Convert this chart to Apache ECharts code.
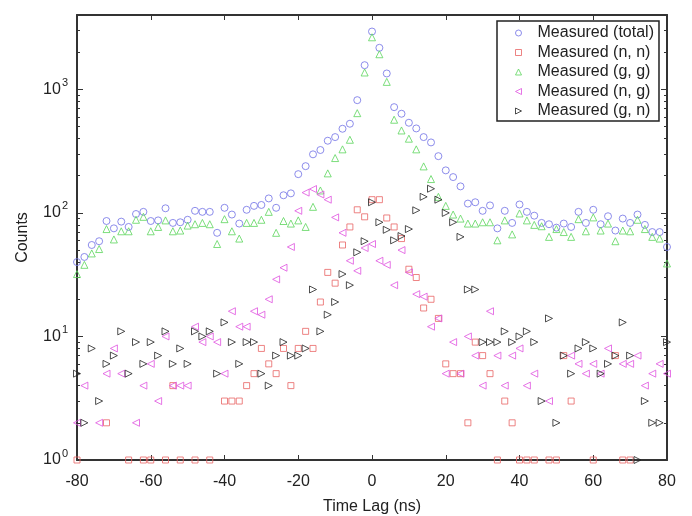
<!DOCTYPE html>
<html>
<head>
<meta charset="utf-8">
<script src="https://cdn.jsdelivr.net/npm/echarts@6/dist/echarts.min.js"></script>
<style>
html,body{margin:0;padding:0;background:#fff;}
#chart{width:692px;height:516px;}
</style>
</head>
<body>
<div id="chart"></div>
<script>
// Time lag (ns) of each bin
const timeLag = [-80,-78,-76,-74,-72,-70,-68,-66,-64,-62,-60,-58,-56,-54,-52,-50,-48,-46,-44,-42,
  -40,-38,-36,-34,-32,-30,-28,-26,-24,-22,-20,-18,-16,-14,-12,-10,-8,-6,-4,-2,0,
  2,4,6,8,10,12,14,16,18,20,22,24,26,28,30,32,34,36,38,40,
  42,44,46,48,50,52,54,56,58,60,62,64,66,68,70,72,74,76,78,80];

const measuredTotal = [40,44,55,59,86,75,85,77,98,102, 86,87,109,83,84,88,104,102,102,69,
  110,97,82,106,114,116,131,110,139,144, 206,239,298,323,384,411,480,527,818,1570, 2940,
  2170,1345,718,635,537,483,411,372,288,221, 195,164,119,122,104,115,75,104,83,117,
  102,95,83,81,76,82,77,102,83,106, 81,94,72,90,83,97,80,70,70,53];

const measuredNN = [1,null,null,null,2,null,null,1,null,1, 1,null,1,4,1,null,1,null,1,null,
  3,3,3,4,5,8,6,5,8,4, 8,11,8,19,33,27,55,77,106,93, 128,
  128,91,77,62,35,30,17,20,14,6, 5,5,2,9,7,5,1,3,2,1,
  1,1,null,1,1,7,3,null,null,1, null,null,7,1,1,null,null,null,null,null];

const measuredGG = [32,38,47,51,74,61,71,71,88,93, 71,77,87,71,72,79,81,83,81,56,
  89,71,62,83,83,88,102,69,86,82, 87,77,112,152,209,278,327,391,642,1370, 2640,
  1925,1150,568,465,399,327,238,188,135,114, 97,90,82,82,84,84,60,87,67,99,
  87,80,78,64,74,70,64,89,71,92, 72,82,59,72,71,88,74,64,62,39];

const measuredNG = [2,4,null,2,5,8,5,null,2,4, 6,3,10,4,4,4,12,9,10,9,
  5,16,12,12,16,15,20,29,36,53, 104,146,156,141,128,92,69,41,34,52, 56,
  41,38,26,50,33,22,21,12,14,5, 9,5,10,7,4,16,7,4,7,8,
  4,5,null,3,null,null,7,6,5,6, 5,8,null,6,6,7,4,5,6,5];

const measuredGN = [5,2,8,3,6,7,11,5,9,6, 9,7,11,6,8,6,11,10,11,5,
  13,9,6,9,9,5,4,7,9,7, 7,8,24,11,15,19,32,26,48,59, 122,
  84,73,60,65,74,105,135,157,128,100, 84,64,24,24,9,9,9,11,9,10,
  11,9,3,14,2,7,5,8,9,8, 5,6,7,13,7,1,3,2,2,9];

const xTicks = [-80,-60,-40,-20,0,20,40,60,80];
const yDecades = [1,10,100,1000];

const FONT = 'Liberation Sans, Arial, Helvetica, sans-serif';
const AXIS_COLOR = '#333';

// minor tick values on the log axis
const yMinor = [];
for (let d = 1; d <= 1000; d *= 10) {
  for (let k = 2; k <= 9; k++) { if (d * k <= 4000) yMinor.push(d * k); }
}

function pairs(arr) {
  const out = [];
  for (let i = 0; i < timeLag.length; i++) {
    if (arr[i] !== null && arr[i] !== undefined) out.push([timeLag[i], arr[i]]);
  }
  return out;
}

const seriesDefs = [
  { name: 'Measured (total)', arr: measuredTotal, symbol: 'circle', rotate: 0, icon: 'circle', color: '#7070e6', size: 7 },
  { name: 'Measured (n, n)', arr: measuredNN, symbol: 'rect', rotate: 0, icon: 'rect', color: '#e86464', size: 6 },
  { name: 'Measured (g, g)', arr: measuredGG, symbol: 'triangle', rotate: 0, icon: 'triangle', color: '#5cd65c', size: 7 },
  { name: 'Measured (n, g)', arr: measuredNG, symbol: 'triangle', rotate: 90, icon: 'path://M0,5L10,0L10,10Z', color: '#e052e0', size: 7 },
  { name: 'Measured (g, n)', arr: measuredGN, symbol: 'triangle', rotate: -90, icon: 'path://M10,5L0,0L0,10Z', color: '#222222', size: 7 }
];

function mkSeries(d) {
  return {
    type: 'scatter',
    name: d.name,
    data: pairs(d.arr),
    symbol: d.symbol,
    symbolSize: d.size,
    symbolRotate: d.rotate,
    xAxisIndex: 0,
    yAxisIndex: 0,
    itemStyle: { color: 'rgba(255,255,255,0)', borderColor: d.color, borderWidth: 1 },
    emphasis: { disabled: true },
    z: 3
  };
}

const chart = echarts.init(document.getElementById('chart'), null, { renderer: 'canvas' });

const baseY = {
  type: 'log', logBase: 10, min: 1, max: 4000, gridIndex: 0
};

chart.setOption({
  animation: false,
  backgroundColor: '#fff',
  textStyle: { fontFamily: FONT },
  grid: { left: 77, right: 25, top: 15, bottom: 56, containLabel: false, outerBoundsMode: 'none' },
  legend: {
    orient: 'vertical',
    left: 497,
    top: 21,
    padding: [4, 5, 2, 18],
    itemGap: 3.5,
    itemWidth: 6,
    itemHeight: 6,
    backgroundColor: '#fff',
    borderColor: '#222',
    borderWidth: 1.5,
    borderRadius: 0,
    textStyle: { fontSize: 16, color: '#222', fontFamily: FONT, lineHeight: 16, padding: [0, 0, 0, 11] },
    data: seriesDefs.map(d => ({
      name: d.name, icon: d.icon,
      itemStyle: { color: 'rgba(255,255,255,0)', borderColor: d.color, borderWidth: 1 }
    }))
  },
  xAxis: [
    {
      type: 'value', min: -80, max: 80, interval: 20, position: 'bottom',
      name: 'Time Lag (ns)', nameLocation: 'middle', nameGap: 39,
      nameTextStyle: { fontSize: 16, color: '#222', fontFamily: FONT },
      axisLine: { show: true, onZero: false, lineStyle: { color: AXIS_COLOR, width: 2 } },
      axisTick: { show: true, inside: true, length: 5, lineStyle: { color: AXIS_COLOR, width: 1 } },
      axisLabel: { fontSize: 16, color: '#222', margin: 14, fontFamily: FONT,
        customValues: xTicks },
      splitLine: { show: false }
    },
    {
      type: 'value', min: -80, max: 80, interval: 20, position: 'top',
      axisLine: { show: true, onZero: false, lineStyle: { color: AXIS_COLOR, width: 2 } },
      axisTick: { show: true, inside: true, length: 5, lineStyle: { color: AXIS_COLOR, width: 1 } },
      axisLabel: { show: false },
      splitLine: { show: false }
    }
  ],
  yAxis: [
    Object.assign({}, baseY, {
      position: 'left',
      name: 'Counts', nameLocation: 'middle', nameGap: 46,
      nameTextStyle: { fontSize: 16, color: '#222', fontFamily: FONT },
      axisLine: { show: true, onZero: false, lineStyle: { color: AXIS_COLOR, width: 2 } },
      axisTick: { show: true, inside: true, length: 6, customValues: yDecades, lineStyle: { color: AXIS_COLOR, width: 1 } },
      axisLabel: {
        margin: 9, color: '#222', fontFamily: FONT,
        customValues: yDecades,
        formatter: function (v) {
          const e = Math.round(Math.log10(v));
          return '{b|10}{s|' + e + '}';
        },
        rich: {
          b: { fontSize: 16, lineHeight: 16, verticalAlign: 'bottom', padding: [4, 0, 0, 0], fontFamily: FONT, color: '#222' },
          s: { fontSize: 11, lineHeight: 11, verticalAlign: 'bottom', padding: [0, 0, 9, 1], fontFamily: FONT, color: '#222' }
        }
      },
      splitLine: { show: false }
    }),
    Object.assign({}, baseY, {
      position: 'left',
      axisLine: { show: false, onZero: false },
      axisTick: { show: true, inside: true, length: 3, customValues: yMinor, lineStyle: { color: AXIS_COLOR, width: 1 } },
      axisLabel: { show: false },
      splitLine: { show: false }
    }),
    Object.assign({}, baseY, {
      position: 'right',
      axisLine: { show: true, onZero: false, lineStyle: { color: AXIS_COLOR, width: 2 } },
      axisTick: { show: true, inside: true, length: 6, customValues: yDecades, lineStyle: { color: AXIS_COLOR, width: 1 } },
      axisLabel: { show: false },
      splitLine: { show: false }
    }),
    Object.assign({}, baseY, {
      position: 'right',
      axisLine: { show: false, onZero: false },
      axisTick: { show: true, inside: true, length: 3, customValues: yMinor, lineStyle: { color: AXIS_COLOR, width: 1 } },
      axisLabel: { show: false },
      splitLine: { show: false }
    })
  ],
  series: seriesDefs.map(mkSeries)
});
</script>
</body>
</html>
